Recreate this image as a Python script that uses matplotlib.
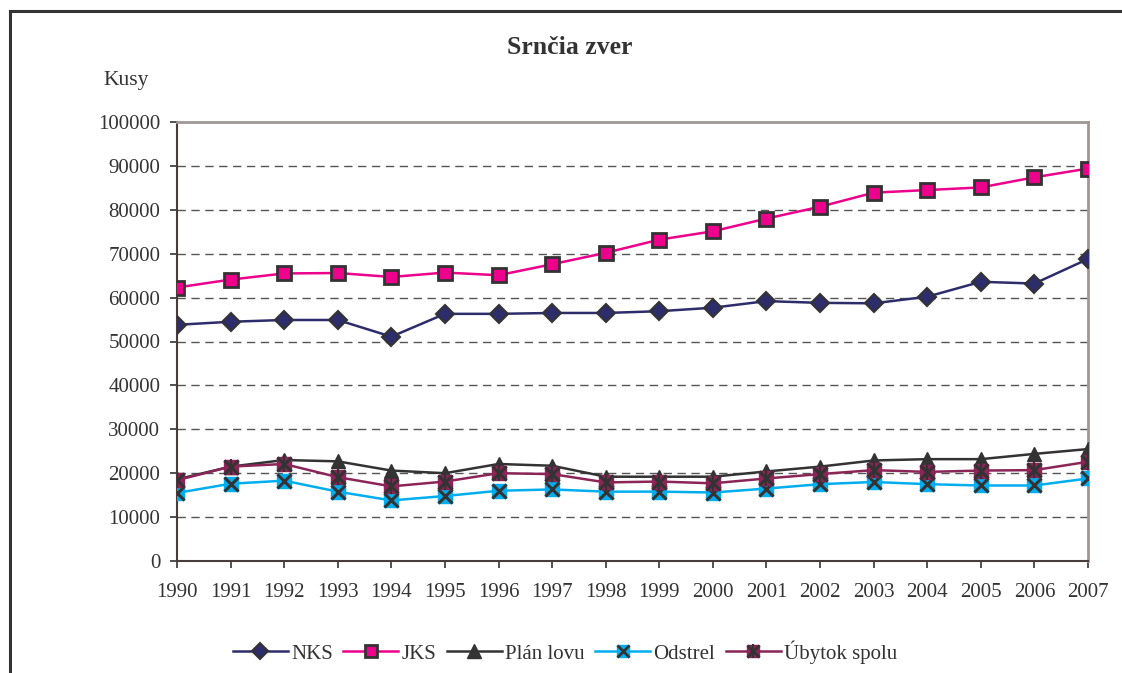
import matplotlib
matplotlib.use("Agg")
import matplotlib.pyplot as plt
from matplotlib.lines import Line2D
from matplotlib.legend_handler import HandlerTuple

plt.rcParams["font.family"] = ["Liberation Serif", "DejaVu Serif"]

years = list(range(1990, 2008))

nks = [53800, 54500, 54900, 54900, 51100, 56300, 56300, 56500, 56500, 56900,
       57700, 59200, 58800, 58700, 60200, 63600, 63200, 68800]
jks = [62300, 64100, 65500, 65600, 64700, 65700, 65100, 67600, 70200, 73200,
       75100, 78000, 80700, 83900, 84500, 85100, 87400, 89400]
plan_lovu = [18600, 21500, 23000, 22700, 20600, 20000, 22100, 21700, 19200, 19200,
             19200, 20400, 21500, 22900, 23200, 23200, 24400, 25500]
odstrel = [15500, 17600, 18300, 15800, 13800, 14800, 16000, 16300, 15800, 15800,
           15600, 16500, 17500, 18000, 17500, 17200, 17200, 18800]
ubytok = [18400, 21500, 22100, 19100, 17000, 18100, 20000, 19800, 17900, 18100,
          17700, 18800, 19800, 20700, 20300, 20600, 20700, 22600]

yticks = list(range(0, 100001, 10000))

c_nks = "#2d2d6b"
c_jks = "#ec008c"
c_plan = "#333333"
c_ods = "#00aeef"
c_uby = "#8b2457"
edge = "#333333"

fig = plt.figure(figsize=(11.22, 6.73), dpi=100)
ax = fig.add_axes([177 / 1122, 1 - 561 / 673, 911 / 1122, 439 / 673])

lw = 1.8
ax.plot(years, nks, color=c_nks, lw=lw, marker="D", ms=9, mfc=c_nks, mec=edge, mew=1.5, zorder=3)
ax.plot(years, jks, color=c_jks, lw=lw, marker="s", ms=9.5, mfc=c_jks, mec=edge, mew=2, zorder=3)
ax.plot(years, plan_lovu, color=c_plan, lw=lw, marker="^", ms=10, mfc=c_plan, mec=c_plan, zorder=3)
ax.plot(years, odstrel, color=c_ods, lw=lw, marker="s", ms=10, mfc=c_ods, mec=c_ods, zorder=4)
ax.plot(years, odstrel, ls="none", marker="x", ms=10, mec=edge, mew=2.2, zorder=4)
ax.plot(years, ubytok, color=c_uby, lw=lw, marker="s", ms=10, mfc=c_uby, mec=c_uby, zorder=5)
ax.plot(years, ubytok, ls="none", marker="x", ms=10, mec=edge, mew=2.2, zorder=5)
ax.plot(years, ubytok, ls="none", marker="|", ms=12, mec=edge, mew=1.5, zorder=5)

ax.set_xlim(1990, 2007)
ax.set_ylim(0, 100000)
ax.set_xticks(years)
ax.set_yticks(yticks)
ax.set_xticklabels([str(y) for y in years])
ax.set_yticklabels([str(v) for v in yticks])
ax.tick_params(axis="both", labelsize=15, colors="#333333", length=5, width=1.2, direction="out")
ax.tick_params(axis="x", pad=11)
ax.tick_params(axis="y", pad=7)

for v in yticks[1:-1]:
    ax.axhline(v, color="#555555", lw=1, ls=(0, (6, 4)), zorder=1)

for s in ["left", "bottom"]:
    ax.spines[s].set_color("#4a3c3c")
    ax.spines[s].set_linewidth(1.5)
for s in ["top", "right"]:
    ax.spines[s].set_color("#a09696")
    ax.spines[s].set_linewidth(2)

fig.text(570 / 1122, 1 - 47 / 673, "Srnčia zver", ha="center", va="center",
         fontsize=18.5, fontweight="bold", color="#333333")
fig.text(103 / 1122, 1 - 80 / 673, "Kusy", ha="left", va="center", fontsize=15.5, color="#333333")

# outer chart frame (cropped on right and bottom)
fig.add_artist(Line2D([10 / 1122, 1.0], [1 - 11 / 673, 1 - 11 / 673], color="#333333", lw=2.2))
fig.add_artist(Line2D([10 / 1122, 10 / 1122], [0, 1 - 11 / 673], color="#333333", lw=2.2))

lms = 8.5
h_nks = Line2D([], [], color=c_nks, lw=lw, marker="D", ms=lms, mfc=c_nks, mec=edge, mew=1.5)
h_jks = Line2D([], [], color=c_jks, lw=lw, marker="s", ms=lms, mfc=c_jks, mec=edge, mew=2)
h_plan = Line2D([], [], color=c_plan, lw=lw, marker="^", ms=lms + 1, mfc=c_plan, mec=c_plan)
h_ods = (Line2D([], [], color=c_ods, lw=lw, marker="s", ms=lms, mfc=c_ods, mec=c_ods),
         Line2D([], [], ls="none", marker="x", ms=lms, mec=edge, mew=2))
h_uby = (Line2D([], [], color=c_uby, lw=lw, marker="s", ms=lms, mfc=c_uby, mec=c_uby),
         Line2D([], [], ls="none", marker="x", ms=lms, mec=edge, mew=2),
         Line2D([], [], ls="none", marker="|", ms=lms + 2, mec=edge, mew=1.5))

fig.legend([h_nks, h_jks, h_plan, h_ods, h_uby],
           ["NKS", "JKS", "Plán lovu", "Odstrel", "Úbytok spolu"],
           handler_map={tuple: HandlerTuple(ndivide=1)},
           loc="center", bbox_to_anchor=(565 / 1122, 1 - 652 / 673), ncol=5,
           frameon=False, fontsize=15, handlelength=2.65, handletextpad=0.15,
           columnspacing=0.5, borderpad=0, borderaxespad=0, labelcolor="#333333")

fig.savefig("out.png", dpi=100)
